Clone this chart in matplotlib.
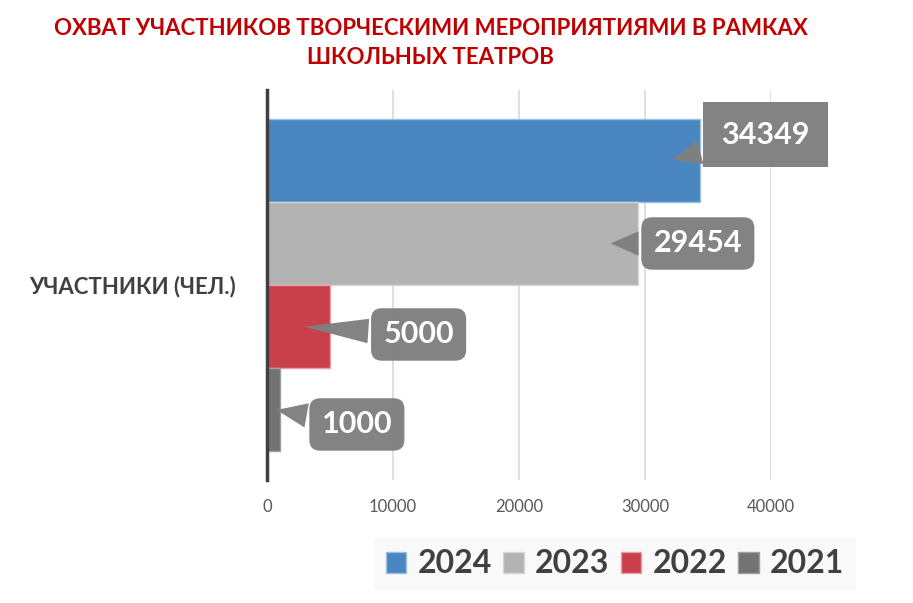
import numpy as np
import matplotlib.pyplot as plt
from matplotlib.patches import Patch

plt.rcParams['font.family'] = ['Lato', 'DejaVu Sans']

# data
years = ['2024', '2023', '2022', '2021']
values = [34349, 29454, 5000, 1000]
colors = ['#4a86c0', '#b3b3b3', '#c93f4a', '#737373']
edges = ['#9cbfe0', '#d6d6d6', '#e6a0a6', '#a0a0a0']
category = 'УЧАСТНИКИ (ЧЕЛ.)'
title = 'ОХВАТ УЧАСТНИКОВ ТВОРЧЕСКИМИ МЕРОПРИЯТИЯМИ В РАМКАХ\nШКОЛЬНЫХ ТЕАТРОВ'
xticks = [0, 10000, 20000, 30000, 40000]

# callout placement (pixels from the pointer tip)
offsets = [(96, 26), (90, 0), (117, -8), (83, -15)]
box_styles = ['square,pad=0.6', 'round,pad=0.4,rounding_size=0.35',
              'round,pad=0.4,rounding_size=0.35', 'round,pad=0.4,rounding_size=0.35']

fig = plt.figure(figsize=(9.13, 6.03), dpi=100)
ax = fig.add_axes([0.2924, 0.204, 0.552, 0.6468])

ypos = np.arange(len(values))[::-1]
ax.barh(ypos, values, height=1.0, color=colors, edgecolor=edges, linewidth=1.0, zorder=2)

ax.set_xlim(0, 40000)
ax.set_ylim(-0.85, 3.85)
ax.set_xticks(xticks)
ax.set_xticklabels([str(t) for t in xticks], fontsize=12, color='#595959')
ax.set_yticks([1.5])
ax.set_yticklabels([category], fontsize=16, fontweight='bold', color='#404040')
ax.tick_params(axis='both', length=0)
ax.tick_params(axis='x', pad=14)
ax.tick_params(axis='y', pad=22)
ax.grid(axis='x', color='#d9d9d9', linewidth=1.2, zorder=0)
for s in ['top', 'right', 'bottom']:
    ax.spines[s].set_visible(False)
ax.spines['left'].set_color('#404040')
ax.spines['left'].set_linewidth(2.5)
ax.spines['left'].set_zorder(5)

for v, y, off, bs in zip(values, ypos, offsets, box_styles):
    tip = v - min(2400, v * 0.45)
    ax.annotate(str(v), xy=(tip, y), xytext=off, textcoords='offset pixels',
                ha='center', va='center', fontsize=22, fontweight='bold', color='white',
                bbox=dict(boxstyle=bs, fc='#7f7f7f', ec='none', alpha=0.97),
                arrowprops=dict(arrowstyle='wedge,tail_width=0.8,shrink_factor=0.5',
                                fc='#7f7f7f', ec='none', alpha=0.97),
                zorder=6, annotation_clip=False)

fig.text(0.472, 0.929, title, ha='center', va='center', fontsize=16,
         fontweight='bold', color='#c00000', linespacing=1.45)

handles = [Patch(facecolor=c, edgecolor=e) for c, e in zip(colors, edges)]
leg = fig.legend(handles, years, loc='center', bbox_to_anchor=(0.6736, 0.0647), ncol=4,
                 frameon=True, fancybox=False, fontsize=23, handlelength=0.65,
                 handleheight=0.65, handletextpad=0.35, columnspacing=0.35,
                 borderpad=0.35)
leg.get_frame().set_facecolor('#f8f8f8')
leg.get_frame().set_edgecolor('none')
for t in leg.get_texts():
    t.set_fontweight('bold')
    t.set_color('#404040')

fig.savefig('out.png', dpi=100)
